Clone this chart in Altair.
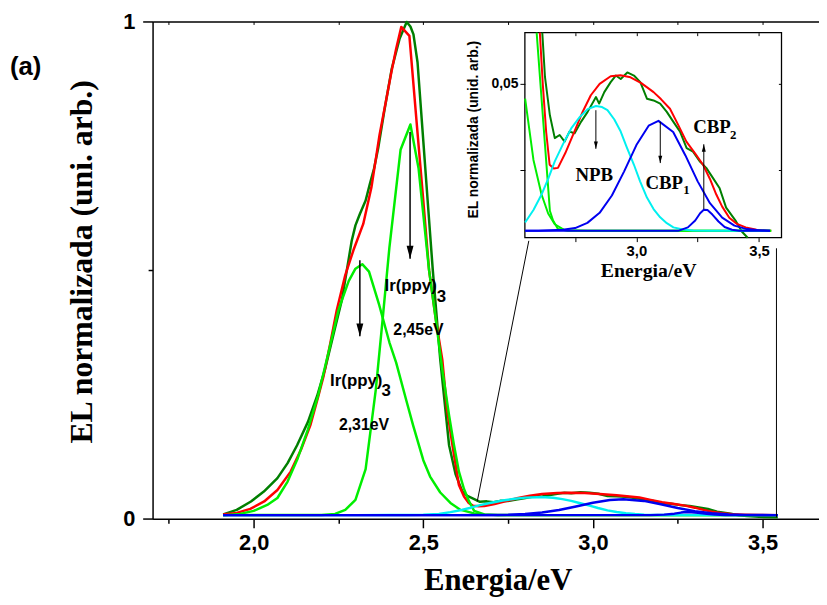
import altair as alt
import pandas as pd

SANS = "Liberation Sans"
SERIF = "Liberation Serif"
DKGREEN = "#007F00"
RED = "#FF0000"
GREEN = "#00EE00"
CYAN = "#00F0F0"
BLUE = "#0000F0"

# ---------------- main panel values (energy eV, normalised EL) ----------------
dkgreen_x = [1.910, 1.95, 1.992, 2.03, 2.07, 2.10, 2.128, 2.16, 2.187, 2.21, 2.235, 2.26, 2.289, 2.30,
             2.313, 2.33, 2.342, 2.355, 2.367, 2.385, 2.407, 2.43, 2.451, 2.462, 2.471, 2.483, 2.50,
             2.515, 2.528, 2.55, 2.576, 2.595, 2.615, 2.63, 2.647, 2.667, 2.687, 2.707, 2.727, 2.748,
             2.774, 2.801, 2.835, 2.848, 2.869, 2.895, 2.916, 2.936, 2.963, 2.990, 3.016, 3.043, 3.070,
             3.097, 3.124, 3.151, 3.178, 3.205, 3.231, 3.258, 3.285, 3.312, 3.339, 3.366, 3.406, 3.43,
             3.454, 3.49, 3.545]
dkgreen_y = [0.009, 0.018, 0.035, 0.055, 0.082, 0.112, 0.148, 0.195, 0.247, 0.300, 0.370, 0.440, 0.559,
             0.590, 0.613, 0.640, 0.672, 0.705, 0.745, 0.820, 0.905, 0.965, 0.999, 0.990, 0.974, 0.918,
             0.760, 0.620, 0.500, 0.320, 0.148, 0.090, 0.055, 0.046, 0.0409, 0.0343, 0.0352, 0.0333,
             0.0362, 0.0357, 0.0390, 0.0419, 0.0462, 0.0443, 0.0476, 0.0505, 0.0524, 0.0514, 0.0533,
             0.0524, 0.0505, 0.0457, 0.0452, 0.0443, 0.0419, 0.0390, 0.0362, 0.0314, 0.0304, 0.0276,
             0.0257, 0.0228, 0.0199, 0.0142, 0.0103, 0.0073, 0.0055, 0.0040, 0.0030]

red_x = [1.910, 1.95, 1.99, 2.031, 2.07, 2.109, 2.14, 2.167, 2.19, 2.206, 2.225, 2.245, 2.27, 2.294,
         2.323, 2.347, 2.371, 2.39, 2.405, 2.42, 2.435, 2.459, 2.48, 2.50, 2.517, 2.537, 2.556, 2.57,
         2.586, 2.605, 2.62, 2.634, 2.646, 2.663, 2.68, 2.71, 2.747, 2.78, 2.814, 2.85, 2.895, 2.935,
         2.976, 3.02, 3.07, 3.10, 3.137, 3.17, 3.204, 3.24, 3.272, 3.30, 3.326, 3.35, 3.379, 3.41,
         3.446, 3.49, 3.545]
red_y = [0.009, 0.012, 0.020, 0.035, 0.058, 0.095, 0.140, 0.188, 0.245, 0.287, 0.350, 0.420, 0.490,
         0.540, 0.593, 0.666, 0.772, 0.840, 0.895, 0.945, 0.989, 0.971, 0.800, 0.640, 0.500, 0.400,
         0.320, 0.220, 0.148, 0.068, 0.045, 0.032, 0.0266, 0.0255, 0.0257, 0.030, 0.0362, 0.0418,
         0.0467, 0.0500, 0.0522, 0.0525, 0.0519, 0.0502, 0.0476, 0.0456, 0.0428, 0.0382, 0.0333,
         0.0298, 0.0266, 0.0225, 0.0180, 0.0145, 0.0113, 0.0095, 0.0085, 0.0078, 0.0075]

g1_x = [1.91, 1.96, 2.00, 2.04, 2.07, 2.10, 2.13, 2.16, 2.19, 2.22, 2.25, 2.28, 2.30, 2.32, 2.34, 2.37,
        2.40, 2.42, 2.45, 2.47, 2.50, 2.52, 2.55, 2.58, 2.61, 2.65, 2.68, 2.72, 2.80, 3.545]
g1_y = [0.007, 0.010, 0.016, 0.028, 0.042, 0.075, 0.122, 0.180, 0.248, 0.333, 0.420, 0.478, 0.503,
        0.512, 0.497, 0.430, 0.355, 0.314, 0.238, 0.188, 0.118, 0.085, 0.053, 0.032, 0.018, 0.011,
        0.0085, 0.0077, 0.0075, 0.0075]

g2_x = [1.91, 2.20, 2.24, 2.27, 2.30, 2.33, 2.36, 2.38, 2.40, 2.433, 2.462, 2.486, 2.517, 2.537, 2.556,
        2.576, 2.59, 2.605, 2.62, 2.635, 2.65, 2.68, 2.72, 3.545]
g2_y = [0.0075, 0.0078, 0.010, 0.018, 0.038, 0.100, 0.260, 0.400, 0.545, 0.742, 0.793, 0.705, 0.500,
        0.400, 0.300, 0.208, 0.150, 0.095, 0.060, 0.035, 0.016, 0.009, 0.0075, 0.0075]

cyan_x = [1.91, 2.30, 2.40, 2.45, 2.50, 2.546, 2.58, 2.613, 2.64, 2.667, 2.70, 2.734, 2.77, 2.801, 2.835,
          2.86, 2.882, 2.91, 2.936, 2.96, 2.99, 3.015, 3.043, 3.07, 3.097, 3.124, 3.151, 3.19, 3.231,
          3.30, 3.545]
cyan_y = [0.0075, 0.0075, 0.0076, 0.0078, 0.0083, 0.0099, 0.0135, 0.0180, 0.0225, 0.0276, 0.0325,
          0.0371, 0.0405, 0.0427, 0.0436, 0.0433, 0.0424, 0.0397, 0.0362, 0.0318, 0.0266, 0.0218,
          0.0171, 0.0138, 0.0114, 0.0097, 0.0085, 0.0079, 0.0076, 0.0075, 0.0075]

cbp1_x = [1.91, 2.546, 2.60, 2.70, 2.75, 2.80, 2.85, 2.90, 2.95, 3.00, 3.05, 3.09, 3.15, 3.20, 3.25,
          3.30, 3.35, 3.40, 3.45, 3.50, 3.545]
cbp1_y = [0.0075, 0.0075, 0.0075, 0.0078, 0.0083, 0.0098, 0.0127, 0.0177, 0.0247, 0.0323, 0.0379,
          0.0393, 0.0361, 0.0293, 0.0218, 0.0155, 0.0113, 0.0090, 0.0080, 0.0077, 0.0075]

cbp2_x = [1.91, 2.546, 3.17, 3.21, 3.24, 3.26, 3.275, 3.29, 3.31, 3.335, 3.36, 3.39, 3.42, 3.545]
cbp2_y = [0.0075, 0.0075, 0.0075, 0.0085, 0.0105, 0.0126, 0.0136, 0.0135, 0.0122, 0.0102, 0.0086,
          0.0078, 0.0075, 0.0075]

# ---------------- inset values (zoom of 2.55-3.55 eV) ----------------
inset_red_x = [2.606, 2.618, 2.632, 2.646, 2.663, 2.680, 2.71, 2.747, 2.78, 2.814, 2.85, 2.895, 2.935,
               2.976, 3.02, 3.07, 3.10, 3.137, 3.17, 3.204, 3.24, 3.272, 3.30, 3.326, 3.35, 3.379,
               3.41, 3.446, 3.49, 3.55]
inset_red_y = [0.0648, 0.050, 0.036, 0.0266, 0.0255, 0.0257, 0.030, 0.0362, 0.0418, 0.0467, 0.0500,
               0.0522, 0.0525, 0.0519, 0.0502, 0.0476, 0.0456, 0.0428, 0.0382, 0.0333, 0.0298,
               0.0266, 0.0225, 0.0180, 0.0145, 0.0113, 0.0095, 0.0085, 0.0078, 0.0075]

inset_dkgreen_x = [2.616, 2.627, 2.647, 2.667, 2.687, 2.707, 2.727, 2.748, 2.774, 2.801, 2.835, 2.848,
                   2.869, 2.895, 2.916, 2.936, 2.963, 2.990, 3.016, 3.043, 3.070, 3.097, 3.124, 3.151,
                   3.178, 3.205, 3.231, 3.258, 3.285, 3.312, 3.339, 3.366, 3.406, 3.43, 3.454]
inset_dkgreen_y = [0.0648, 0.052, 0.0409, 0.0343, 0.0352, 0.0333, 0.0362, 0.0357, 0.0390, 0.0419,
                   0.0462, 0.0443, 0.0476, 0.0505, 0.0524, 0.0514, 0.0533, 0.0524, 0.0505, 0.0457,
                   0.0452, 0.0443, 0.0419, 0.0390, 0.0362, 0.0314, 0.0304, 0.0276, 0.0257, 0.0228,
                   0.0199, 0.0142, 0.0103, 0.0073, 0.0055]

inset_g1_x = [2.546, 2.58, 2.613, 2.64, 2.667, 2.707, 2.80, 3.55]
inset_g1_y = [0.0457, 0.028, 0.018, 0.0125, 0.0094, 0.0077, 0.0075, 0.0075]

inset_g2_x = [2.593, 2.61, 2.625, 2.647, 2.66, 2.68, 2.72, 3.55]
inset_g2_y = [0.0648, 0.0486, 0.0343, 0.0133, 0.0105, 0.0080, 0.0075, 0.0075]

# ---------------- ticks / labels / annotations ----------------
main_x_major = [2.0, 2.5, 3.0, 3.5]
main_x_minor = [1.75, 2.25, 2.75, 3.25]
main_y_major = [0, 1]
main_y_minor = [0.5]
inset_x_ticks = [2.75, 3.0, 3.25, 3.5]
inset_y_ticks = [0.025, 0.05]

main_arrow_x = [2.313, 2.461]
main_arrow_from = [0.52, 0.778]
main_arrow_tip = [0.367, 0.523]

main_text = ["Ir(ppy)", "3", "2,31eV", "Ir(ppy)", "3", "2,45eV"]
main_text_x = [2.2253, 2.377, 2.3252, 2.3856, 2.540, 2.4857]
main_text_y = [0.2674, 0.2474, 0.1792, 0.4585, 0.4366, 0.3703]

inset_arrow_x = [2.8347, 3.0974, 3.275]
inset_arrow_from = [0.04238, 0.03903, 0.01375]
inset_arrow_tip = [0.03121, 0.02709, 0.03253]

inset_text = ["NPB", "CBP", "1", "CBP", "2"]
inset_text_x = [2.8279, 3.0368, 3.1915, 3.2319, 3.3814]
inset_text_y = [0.02185, 0.01947, 0.01813, 0.03568, 0.03416]

# zoom connector lines (main-panel coordinates)
conn_x = [2.659, 3.541]
conn_y = [0.035, 0.003]
conn_x2 = [2.811, 3.541]
conn_y2 = [0.559, 0.544]

# inset frame (inset coordinates)
frame_x = [2.545]
frame_x2 = [3.592]
frame_y = [0.00553]
frame_y2 = [0.0648]

W, H = 673, 502.3
MAIN_XD = [1.702, 3.6664]
MAIN_YD = [0.0, 1.0]
INS_XD = [1.026, 3.745]
INS_YD = [-0.0758, 0.06804]


def df(xs, ys):
    return pd.DataFrame({"x": xs, "y": ys})


def X(dom, axis=None):
    return alt.X("x:Q", scale=alt.Scale(domain=dom, nice=False, zero=False), axis=axis)


def Y(dom, axis=None):
    return alt.Y("y:Q", scale=alt.Scale(domain=dom, nice=False, zero=False), axis=axis)


def line(d, color, sw, xd, yd, xa=None, ya=None):
    return alt.Chart(d).mark_line(color=color, strokeWidth=sw, strokeJoin="round").encode(
        x=X(xd, xa), y=Y(yd, ya))


tick_style = dict(tickColor="black", tickWidth=1.5, grid=False)

ax_main_x = alt.Axis(orient="bottom", values=main_x_major,
                     labelExpr="replace(format(datum.value, '.1f'), '.', ',')",
                     tickSize=9, domain=True, domainColor="black", domainWidth=1.5,
                     labelFont=SANS, labelFontWeight="bold", labelFontSize=22, labelColor="black",
                     labelPadding=5, labelBaseline="top", labelFlush=False, labelOverlap=False,
                     title="Energia/eV", titleFont=SERIF, titleFontSize=31, titleFontWeight="bold",
                     titleColor="black", titleX=348.5, titleY=71, titleBaseline="alphabetic",
                     titleAlign="center", **tick_style)
ax_main_x_minor = alt.Axis(orient="bottom", values=main_x_minor, labels=False, tickSize=4.5,
                           domain=False, title=None, **tick_style)
ax_main_top = alt.Axis(orient="bottom", offset=-H, values=main_x_minor + main_x_major, labels=False,
                       tickSize=3, domain=True, domainColor="black", domainWidth=1.5, title=None,
                       tickColor="black", tickWidth=1, grid=False)
ax_main_y = alt.Axis(orient="left", values=main_y_major, format="d", tickSize=10, domain=True,
                     domainColor="black", domainWidth=1.5, labelFont=SANS, labelFontWeight="bold",
                     labelFontSize=22, labelColor="black", labelPadding=8, labelBaseline="middle",
                     labelOverlap=False, labelFlush=False,
                     title="EL normalizada (uni. arb.)", titleFont=SERIF, titleFontSize=32,
                     titleFontWeight="bold", titleColor="black", titleAngle=270, titleX=-62,
                     titleY=242.3, titleBaseline="alphabetic", titleAlign="center", **tick_style)
ax_main_y_minor = alt.Axis(orient="left", values=main_y_minor, labels=False, tickSize=4.5,
                           domain=False, title=None, **tick_style)

ax_ins_x = alt.Axis(orient="bottom", offset=-284, values=inset_x_ticks,
                    labelExpr="(datum.value * 2) % 1 == 0 ? replace(format(datum.value, '.1f'), '.', ',') : ''",
                    tickSize=4, domain=False, labelFont=SANS, labelFontWeight="bold", labelFontSize=15,
                    labelColor="black", labelPadding=2, labelBaseline="top", labelFlush=False,
                    labelOverlap=False, title="Energia/eV", titleFont=SERIF, titleFontSize=20,
                    titleFontWeight="bold", titleColor="black", titleX=500.5, titleY=39,
                    titleBaseline="alphabetic", titleAlign="center", zindex=1,
                    tickColor="black", tickWidth=1, grid=False)
ax_ins_y = alt.Axis(orient="left", offset=-376, values=inset_y_ticks,
                    labelExpr="datum.value > 0.04 ? '0,05' : ''", tickSize=5, domain=False,
                    labelFont=SANS, labelFontWeight="bold", labelFontSize=14, labelColor="black",
                    labelPadding=2, labelBaseline="middle", labelFlush=False, labelOverlap=False,
                    title="EL normalizada (unid. arb.)", titleFont=SANS, titleFontSize=14,
                    titleFontWeight="bold", titleColor="black", titleAngle=270, titleX=-48,
                    titleY=108.8, titleBaseline="alphabetic", titleAlign="center", zindex=1,
                    tickColor="black", tickWidth=1, grid=False)
ax_ins_top = alt.Axis(orient="bottom", offset=-491, values=inset_x_ticks, labels=False, tickSize=3,
                      domain=False, title=None, zindex=1, tickColor="black", tickWidth=1, grid=False)
ax_ins_right = alt.Axis(orient="left", offset=-635, values=inset_y_ticks, labels=False, tickSize=3,
                        domain=False, title=None, zindex=1, tickColor="black", tickWidth=1, grid=False)

DOWN = "M-0.5,-1.86L0.5,-1.86L0,0Z"
UP = "M-0.5,1.86L0.5,1.86L0,0Z"

# ---------------- main panel layers ----------------
main_arrows = pd.DataFrame({"x": main_arrow_x, "y": main_arrow_from, "y2": main_arrow_tip})
main_heads = pd.DataFrame({"x": main_arrow_x, "y": main_arrow_tip})
main_txt = pd.DataFrame({"x": main_text_x, "y": main_text_y, "t": main_text})
conn = pd.DataFrame({"x": conn_x, "y": conn_y, "x2": conn_x2, "y2": conn_y2})
panel_label = pd.DataFrame({"x": [1.2817], "y": [0.8919], "t": ["(a)"]})

main_layers = [
    line(df(dkgreen_x, dkgreen_y), DKGREEN, 2.5, MAIN_XD, MAIN_YD, ax_main_x, ax_main_y),
    line(df(red_x, red_y), RED, 2.5, MAIN_XD, MAIN_YD, ax_main_x_minor, ax_main_y_minor),
    line(df(g1_x, g1_y), GREEN, 2.5, MAIN_XD, MAIN_YD, ax_main_top, None),
    line(df(g2_x, g2_y), GREEN, 2.5, MAIN_XD, MAIN_YD),
    line(df(cyan_x, cyan_y), CYAN, 2.5, MAIN_XD, MAIN_YD),
    line(df(cbp1_x, cbp1_y), BLUE, 2.5, MAIN_XD, MAIN_YD),
    line(df(cbp2_x, cbp2_y), BLUE, 2.5, MAIN_XD, MAIN_YD),
    alt.Chart(conn).mark_rule(color="black", strokeWidth=1).encode(
        x=X(MAIN_XD), y=Y(MAIN_YD), x2="x2:Q", y2="y2:Q"),
    alt.Chart(main_arrows).mark_rule(color="black", strokeWidth=1.5).encode(
        x=X(MAIN_XD), y=Y(MAIN_YD), y2="y2:Q"),
    alt.Chart(main_heads).mark_point(shape=DOWN, size=196, filled=True, color="black",
                                     opacity=1, strokeWidth=0).encode(x=X(MAIN_XD), y=Y(MAIN_YD)),
]
txt_sizes = [17, 17, 16, 17, 17, 16]
txt_align = ["left", "left", "center", "left", "left", "center"]
for i in range(len(main_text)):
    main_layers.append(
        alt.Chart(main_txt.iloc[[i]]).mark_text(font=SANS, fontWeight="bold", fontSize=txt_sizes[i],
                                                align=txt_align[i], baseline="alphabetic",
                                                color="black").encode(
            x=X(MAIN_XD), y=Y(MAIN_YD), text="t:N"))
main_layers.append(
    alt.Chart(panel_label).mark_text(font=SANS, fontWeight="bold", fontSize=26, align="left",
                                     baseline="alphabetic", color="black").encode(
        x=X(MAIN_XD), y=Y(MAIN_YD), text="t:N"))

main = alt.layer(*main_layers).resolve_axis(x="independent", y="independent")

# ---------------- inset layers ----------------
frame = pd.DataFrame({"x": frame_x, "x2": frame_x2, "y": frame_y, "y2": frame_y2})
ins_arrows = pd.DataFrame({"x": inset_arrow_x, "y": inset_arrow_from, "y2": inset_arrow_tip})
ins_heads_down = pd.DataFrame({"x": inset_arrow_x[:2], "y": inset_arrow_tip[:2]})
ins_heads_up = pd.DataFrame({"x": inset_arrow_x[2:], "y": inset_arrow_tip[2:]})
ins_txt = pd.DataFrame({"x": inset_text_x, "y": inset_text_y, "t": inset_text})
flt = "datum.x >= 2.545"

inset_layers = [
    alt.Chart(frame).mark_rect(fill="white", stroke="black", strokeWidth=1.3).encode(
        x=X(INS_XD), x2="x2:Q", y=Y(INS_YD), y2="y2:Q"),
    line(df(inset_dkgreen_x, inset_dkgreen_y), DKGREEN, 2, INS_XD, INS_YD, ax_ins_x, ax_ins_y),
    line(df(inset_red_x, inset_red_y), RED, 2, INS_XD, INS_YD, ax_ins_top, ax_ins_right),
    line(df(inset_g1_x, inset_g1_y), GREEN, 2, INS_XD, INS_YD),
    line(df(inset_g2_x, inset_g2_y), GREEN, 2, INS_XD, INS_YD),
    line(df(cyan_x, cyan_y), CYAN, 2, INS_XD, INS_YD).transform_filter(flt),
    line(df(cbp1_x, cbp1_y), BLUE, 2, INS_XD, INS_YD).transform_filter(flt),
    line(df(cbp2_x, cbp2_y), BLUE, 2, INS_XD, INS_YD).transform_filter(flt),
    alt.Chart(ins_arrows).mark_rule(color="black", strokeWidth=1).encode(
        x=X(INS_XD), y=Y(INS_YD), y2="y2:Q"),
    alt.Chart(ins_heads_down).mark_point(shape=DOWN, size=64, filled=True, color="black",
                                         opacity=1, strokeWidth=0).encode(x=X(INS_XD), y=Y(INS_YD)),
    alt.Chart(ins_heads_up).mark_point(shape=UP, size=64, filled=True, color="black",
                                       opacity=1, strokeWidth=0).encode(x=X(INS_XD), y=Y(INS_YD)),
]
ins_sizes = [19, 19, 13, 19, 13]
ins_align = ["center", "left", "left", "left", "left"]
for i in range(len(inset_text)):
    inset_layers.append(
        alt.Chart(ins_txt.iloc[[i]]).mark_text(font=SERIF, fontWeight="bold", fontSize=ins_sizes[i],
                                               align=ins_align[i], baseline="alphabetic",
                                               color="black").encode(
            x=X(INS_XD), y=Y(INS_YD), text="t:N"))

inset = alt.layer(*inset_layers).resolve_axis(x="independent", y="independent")

chart = alt.layer(main, inset).resolve_scale(x="independent", y="independent").resolve_axis(
    x="independent", y="independent").properties(
    width=W, height=H,
    padding={"left": 146, "top": 10.7, "right": 0, "bottom": 76},
    autosize=alt.AutoSizeParams(type="none"),
).configure_view(strokeWidth=0)

chart.save("out.html", embed_options={"renderer": "svg", "actions": False})
